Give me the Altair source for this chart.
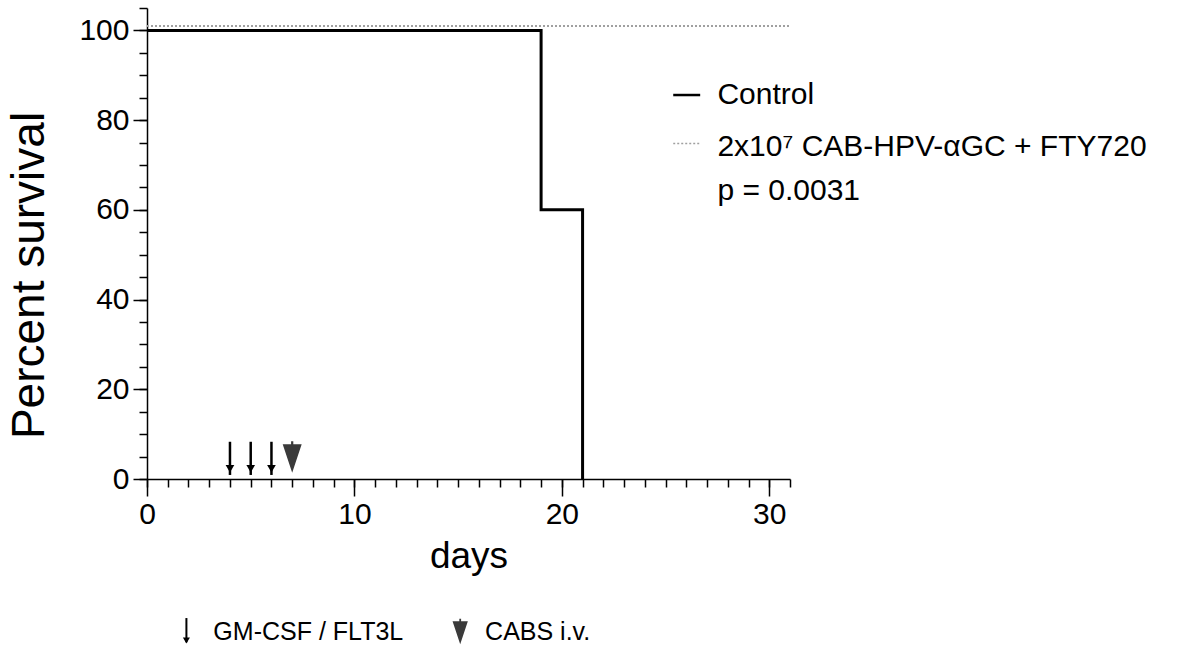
import altair as alt
import pandas as pd

# ---- data ----
control_days = [0, 19, 21]
control_surv = [100, 60, 0]
treated_days = [0, 31]
treated_surv = [100, 100]
gm_csf_days = [4, 5, 6]
cabs_days = [7]

legend_labels = ["Control", "2x10\u2077 CAB-HPV-\u03b1GC + FTY720", "p = 0.0031"]
bottom_labels = ["GM-CSF / FLT3L", "CABS i.v."]

x_major = [0, 10, 20, 30]
x_minor = list(range(0, 32))
y_major = [0, 20, 40, 60, 80, 100]
y_minor = list(range(0, 106, 5))

FONT = "Liberation Sans"

# ---- annotation placement (data units) ----
ARROW_TOP, ARROW_HEAD = 8.3, 2.3
CABS_Y = 4.9
LEG_LINE_X, LEG_LINE_X2, LEG_TEXT_X = 25.37, 26.67, 27.5
LEG_ROWS_Y = [85.6, 74.0, 64.3]
BOT_Y = -34.0
BOT_ARROW_X, BOT_TEXT1_X, BOT_TRI_X, BOT_TEXT2_X = 1.90, 3.2, 15.1, 16.3

TRI_PATH = "M-0.6,-0.8L0.6,-0.8L0,1Z M-0.07,-1L0.07,-1L0.07,-0.8L-0.07,-0.8Z"

xs = alt.Scale(domain=[0, 31], nice=False, zero=False)
ys = alt.Scale(domain=[0, 105], nice=False, zero=False)

control = pd.DataFrame({"day": control_days, "surv": control_surv})
treated = pd.DataFrame({"day": treated_days, "surv": treated_surv})
gm = pd.DataFrame({"day": gm_csf_days, "top": [ARROW_TOP] * len(gm_csf_days),
                   "bot": [0.9] * len(gm_csf_days), "head": [ARROW_HEAD] * len(gm_csf_days)})
cabs = pd.DataFrame({"day": cabs_days, "y": [CABS_Y] * len(cabs_days)})

major_x_axis = alt.Axis(values=x_major, tickSize=17, tickWidth=1.5, domainWidth=1.5,
                        domainColor="black", tickColor="black", labelColor="black",
                        labelFont=FONT, labelFontSize=30, labelPadding=3, format="d",
                        labelFlush=False,
                        title="days", titleFont=FONT, titleFontSize=37,
                        titleFontWeight="normal", titleColor="black", titlePadding=9,
                        grid=False, orient="bottom")
major_y_axis = alt.Axis(values=y_major, tickSize=14, tickWidth=1.5, domainWidth=1.5,
                        domainColor="black", tickColor="black", labelColor="black",
                        labelFont=FONT, labelFontSize=30, labelPadding=4, format="d",
                        labelFlush=False,
                        title="Percent survival", titleFont=FONT, titleFontSize=46,
                        titleFontWeight="normal", titleColor="black",
                        titleX=-104, titleY=267, titleBaseline="alphabetic",
                        titleAlign="center", titleAngle=270,
                        grid=False, orient="left")
minor_x_axis = alt.Axis(values=x_minor, tickSize=8, tickWidth=1.5, tickColor="black",
                        labels=False, domain=False, title=None, grid=False, orient="bottom")
minor_y_axis = alt.Axis(values=y_minor, tickSize=8, tickWidth=1.5, tickColor="black",
                        labels=False, domain=False, title=None, grid=False, orient="left")

control_line = alt.Chart(control).mark_line(
    interpolate="step-after", color="black", strokeWidth=3
).encode(
    x=alt.X("day:Q", scale=xs, axis=major_x_axis),
    y=alt.Y("surv:Q", scale=ys, axis=major_y_axis),
)

treated_line = alt.Chart(treated).mark_line(
    interpolate="step-after", color="#a0a0a0", strokeWidth=2, strokeDash=[2, 2], yOffset=-4.5
).encode(
    x=alt.X("day:Q", scale=xs, axis=minor_x_axis),
    y=alt.Y("surv:Q", scale=ys, axis=minor_y_axis),
)

shafts = alt.Chart(gm).mark_rule(color="black", strokeWidth=2.5).encode(
    x=alt.X("day:Q", scale=xs, axis=None),
    y=alt.Y("top:Q", scale=ys, axis=None),
    y2="bot:Q",
)
heads = alt.Chart(gm).mark_point(shape="triangle-down", filled=True, color="black",
                                 size=75, opacity=1).encode(
    x=alt.X("day:Q", scale=xs, axis=None),
    y=alt.Y("head:Q", scale=ys, axis=None),
)
cabs_tri = alt.Chart(cabs).mark_point(shape=TRI_PATH, filled=True,
                                      color="#3a3a3a", size=1000, opacity=1).encode(
    x=alt.X("day:Q", scale=xs, axis=None),
    y=alt.Y("y:Q", scale=ys, axis=None),
)

# right-hand legend
leg_text = pd.DataFrame({"x": [LEG_TEXT_X] * 3, "y": LEG_ROWS_Y, "t": legend_labels})
legend_texts = alt.Chart(leg_text).mark_text(align="left", baseline="middle", font=FONT,
                                             fontSize=30, color="black").encode(
    x=alt.X("x:Q", scale=xs, axis=None),
    y=alt.Y("y:Q", scale=ys, axis=None),
    text="t:N",
)
leg_ctrl = pd.DataFrame({"x": [LEG_LINE_X], "x2": [LEG_LINE_X2], "y": [LEG_ROWS_Y[0]]})
leg_ctrl_line = alt.Chart(leg_ctrl).mark_rule(color="black", strokeWidth=2.5).encode(
    x=alt.X("x:Q", scale=xs, axis=None), x2="x2:Q",
    y=alt.Y("y:Q", scale=ys, axis=None),
)
leg_trt = pd.DataFrame({"x": [LEG_LINE_X], "x2": [LEG_LINE_X2], "y": [LEG_ROWS_Y[1] + 0.8]})
leg_trt_line = alt.Chart(leg_trt).mark_rule(color="#a0a0a0", strokeWidth=1.5,
                                            strokeDash=[2, 2]).encode(
    x=alt.X("x:Q", scale=xs, axis=None), x2="x2:Q",
    y=alt.Y("y:Q", scale=ys, axis=None),
)

# bottom legend
bot_arrow = pd.DataFrame({"x": [BOT_ARROW_X], "top": [BOT_Y + 3.0], "bot": [BOT_Y - 2.4],
                          "head": [BOT_Y - 2.0]})
bot_shaft = alt.Chart(bot_arrow).mark_rule(color="black", strokeWidth=2).encode(
    x=alt.X("x:Q", scale=xs, axis=None),
    y=alt.Y("top:Q", scale=ys, axis=None), y2="bot:Q",
)
bot_head = alt.Chart(bot_arrow).mark_point(shape="triangle-down", filled=True, color="black",
                                           size=50, opacity=1).encode(
    x=alt.X("x:Q", scale=xs, axis=None),
    y=alt.Y("head:Q", scale=ys, axis=None),
)
bot_tri_df = pd.DataFrame({"x": [BOT_TRI_X], "y": [BOT_Y]})
bot_tri = alt.Chart(bot_tri_df).mark_point(shape=TRI_PATH, filled=True,
                                           color="#3a3a3a", size=650, opacity=1).encode(
    x=alt.X("x:Q", scale=xs, axis=None),
    y=alt.Y("y:Q", scale=ys, axis=None),
)
bot_text_df = pd.DataFrame({"x": [BOT_TEXT1_X, BOT_TEXT2_X], "y": [BOT_Y, BOT_Y],
                            "t": bottom_labels})
bot_texts = alt.Chart(bot_text_df).mark_text(align="left", baseline="middle", font=FONT,
                                             fontSize=25, color="black").encode(
    x=alt.X("x:Q", scale=xs, axis=None),
    y=alt.Y("y:Q", scale=ys, axis=None),
    text="t:N",
)

chart = alt.layer(
    control_line, treated_line, shafts, heads, cabs_tri,
    legend_texts, leg_ctrl_line, leg_trt_line,
    bot_shaft, bot_head, bot_tri, bot_texts,
).resolve_axis(x="independent", y="independent").properties(
    width=643, height=471,
    padding={"left": 147, "top": 8, "right": 389, "bottom": 178},
    autosize=alt.AutoSizeParams(type="none"),
    background="white",
).configure_view(stroke=None)

chart.save("out.html", embed_options={"renderer": "svg", "actions": False})
